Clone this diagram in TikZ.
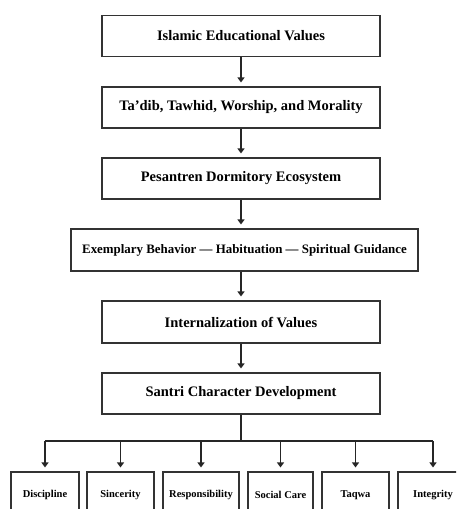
\documentclass[tikz,border=0pt]{standalone}
\usepackage{fontspec}
\setmainfont{Liberation Serif}
\usetikzlibrary{arrows.meta}
\begin{document}
\begin{tikzpicture}[x=1pt,y=-1pt,
  mainbox/.style={draw=black!80,line width=1.1pt,fill=white,minimum width=278pt,minimum height=41pt,inner sep=0pt,font=\fontsize{14.5}{16}\selectfont\bfseries},
  leafbox/.style={draw=black!80,line width=1.1pt,fill=white,minimum height=46pt,inner sep=0pt,font=\fontsize{10.5}{12}\selectfont\bfseries},
  arr/.style={draw=black!85,line width=1.1pt,-{Triangle[length=5pt,width=7pt]},shorten >=4pt},
  conn/.style={draw=black!85,line width=1.1pt}]
\useasboundingbox (0,0) rectangle (456,509);
\clip (0,0) rectangle (456,509);
\fill[white] (0,0) rectangle (456,509);
\node[mainbox] (b1) at (241,36) {Islamic Educational Values};
\node[mainbox] (b2) at (241,107.5) {Ta'dib, Tawhid, Worship, and Morality};
\node[mainbox] (b3) at (241,178.5) {Pesantren Dormitory Ecosystem};
\node[mainbox,minimum width=347pt,minimum height=42pt,font=\fontsize{12.9}{15}\selectfont\bfseries] (b4) at (244.5,250) {Exemplary Behavior — Habituation — Spiritual Guidance};
\node[mainbox,minimum height=42pt] (b5) at (241,322) {Internalization of Values};
\node[mainbox] (b6) at (241,393.5) {Santri Character Development};
\node[leafbox,minimum width=68pt] (l1) at (45,495) {Discipline};
\node[leafbox,minimum width=67pt] (l2) at (120.5,495) {Sincerity};
\node[leafbox,minimum width=76pt] (l3) at (201,495) {Responsibility};
\node[leafbox,minimum width=65pt] (l4) at (280.5,495) {Social Care};
\node[leafbox,minimum width=67pt] (l5) at (355.5,495) {Taqwa};
\node[leafbox,minimum width=70pt] (l6) at (433,495) {Integrity};
\draw[arr] (b1.south) -- (b2.north);
\draw[arr] (b2.south) -- (b3.north);
\draw[arr] (b3.south) -- (b3.south |- b4.north);
\draw[arr] (b3.south |- b4.south) -- (b5.north);
\draw[arr] (b5.south) -- (b6.north);
\coordinate (bus) at (241,441);
\draw[conn] (b6.south) -- (bus);
\draw[conn] (l1.north |- bus) -- (l6.north |- bus);
\foreach \n in {l1,l2,l3,l4,l5,l6} \draw[arr] (\n.north |- bus) -- (\n.north);
\end{tikzpicture}
\end{document}
